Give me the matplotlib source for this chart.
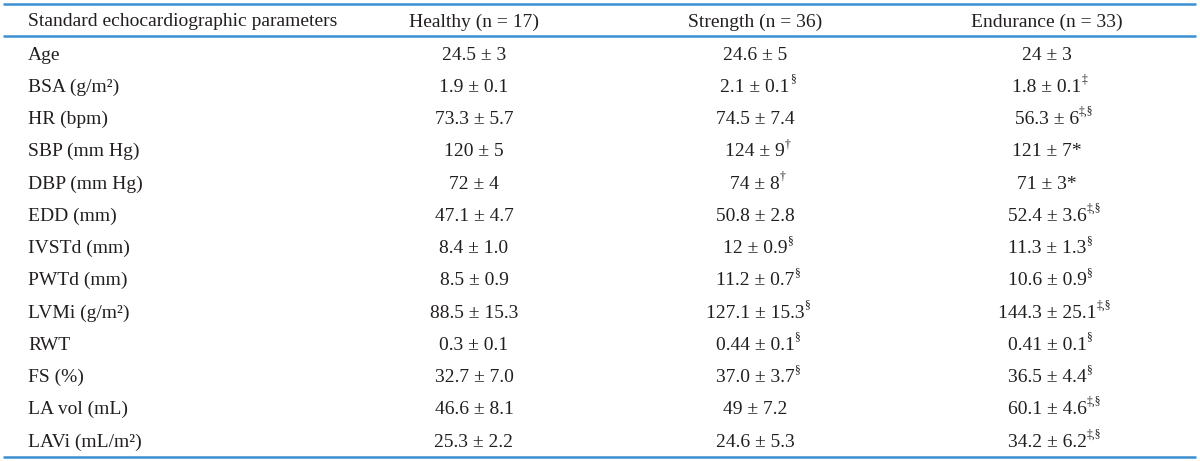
import matplotlib
matplotlib.use("Agg")
import matplotlib.pyplot as plt

# table content
header = ["Standard echocardiographic parameters", "Healthy (n = 17)",
          "Strength (n = 36)", "Endurance (n = 33)"]
params = ["Age", "BSA (g/m\u00b2)", "HR (bpm)", "SBP (mm Hg)", "DBP (mm Hg)",
          "EDD (mm)", "IVSTd (mm)", "PWTd (mm)", "LVMi (g/m\u00b2)", "RWT",
          "FS (%)", "LA vol (mL)", "LAVi (mL/m\u00b2)"]
healthy = ["24.5 \u00b1 3", "1.9 \u00b1 0.1", "73.3 \u00b1 5.7", "120 \u00b1 5",
           "72 \u00b1 4", "47.1 \u00b1 4.7", "8.4 \u00b1 1.0", "8.5 \u00b1 0.9",
           "88.5 \u00b1 15.3", "0.3 \u00b1 0.1", "32.7 \u00b1 7.0",
           "46.6 \u00b1 8.1", "25.3 \u00b1 2.2"]
strength = ["24.6 \u00b1 5", "2.1 \u00b1 0.1", "74.5 \u00b1 7.4", "124 \u00b1 9",
            "74 \u00b1 8", "50.8 \u00b1 2.8", "12 \u00b1 0.9", "11.2 \u00b1 0.7",
            "127.1 \u00b1 15.3", "0.44 \u00b1 0.1", "37.0 \u00b1 3.7",
            "49 \u00b1 7.2", "24.6 \u00b1 5.3"]
strength_sup = ["", "\u00a7", "", "\u2020", "\u2020", "", "\u00a7", "\u00a7",
                "\u00a7", "\u00a7", "\u00a7", "", ""]
endurance = ["24 \u00b1 3", "1.8 \u00b1 0.1", "56.3 \u00b1 6", "121 \u00b1 7*",
             "71 \u00b1 3*", "52.4 \u00b1 3.6", "11.3 \u00b1 1.3", "10.6 \u00b1 0.9",
             "144.3 \u00b1 25.1", "0.41 \u00b1 0.1", "36.5 \u00b1 4.4",
             "60.1 \u00b1 4.6", "34.2 \u00b1 6.2"]
endurance_sup = ["", "\u2021", "\u2021,\u00a7", "", "", "\u2021,\u00a7", "\u00a7",
                 "\u00a7", "\u2021,\u00a7", "\u00a7", "\u00a7", "\u2021,\u00a7",
                 "\u2021,\u00a7"]

W, H = 1200, 461
fig = plt.figure(figsize=(W / 100, H / 100), dpi=100)
ax = fig.add_axes([0, 0, 1, 1])
ax.set_xlim(0, W)
ax.set_ylim(H, 0)
ax.axis("off")

font = "Liberation Serif"
fs = 14.0
txt_color = "#231f20"
line_color = "#3b8fd0"

col_x = [28, 474, 755, 1047]
head_y = 22
row0, row_h = 55, 32.25

# rules: top, under header, bottom
for y in [4, 36, 457]:
    ax.plot([3, 1196], [y, y], color=line_color, lw=1.8, solid_capstyle="butt")

ax.text(col_x[0], head_y, header[0], ha="left", va="center",
        fontsize=fs, family=font, color=txt_color)
for x, h in zip(col_x[1:], header[1:]):
    ax.text(x, head_y, h, ha="center", va="center", fontsize=fs,
            family=font, color=txt_color)

for i, p in enumerate(params):
    y = row0 + i * row_h
    ax.text(col_x[0], y, p, ha="left", va="center", fontsize=fs,
            family=font, color=txt_color)
    ax.text(col_x[1], y, healthy[i], ha="center", va="center",
            fontsize=fs, family=font, color=txt_color)
    for x, vals, sups in [(col_x[2], strength, strength_sup),
                          (col_x[3], endurance, endurance_sup)]:
        t = ax.text(x, y, vals[i], ha="center", va="center", fontsize=fs,
                    family=font, color=txt_color)
        if sups[i]:
            ax.annotate(sups[i], xy=(1.0, 0.95), xycoords=t, ha="left",
                        va="center", fontsize=fs * 0.6, family=font,
                        color=txt_color)

fig.savefig("out.png", dpi=100)
